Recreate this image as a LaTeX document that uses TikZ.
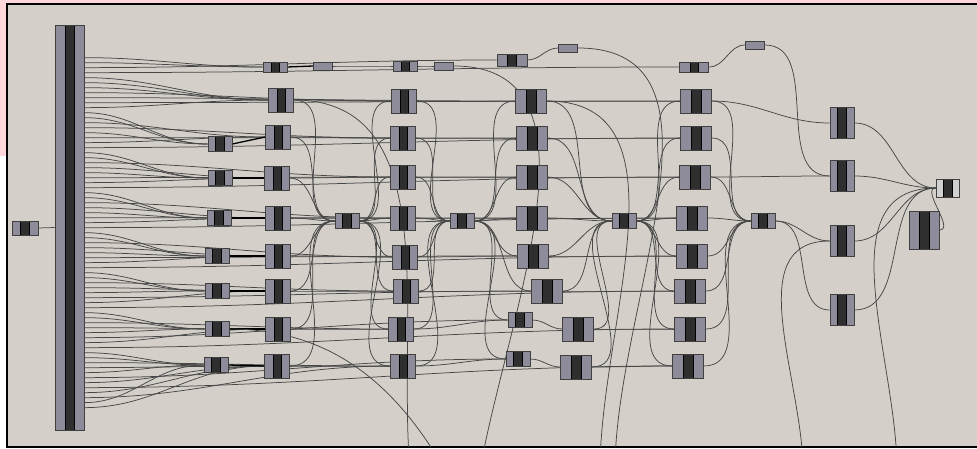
\documentclass[tikz,border=0pt]{standalone}
\usetikzlibrary{positioning}
\pgfdeclarelayer{back}
\pgfdeclarelayer{wires}
\pgfsetlayers{back,wires,main}
\definecolor{canvasgray}{HTML}{D4D0C9}
\definecolor{compgray}{HTML}{8E8C9B}
\definecolor{compcore}{HTML}{2F2F2F}
\definecolor{pinkmargin}{HTML}{FFD6DA}
\tikzset{
  comp/.style n args={3}{draw=black!75, fill=compgray, line width=0.7pt, inner sep=0pt,
    minimum width=#1pt, minimum height=#2pt,
    path picture={\draw[fill=compcore, draw=black, line width=0.6pt]
      ([xshift=-#3pt]path picture bounding box.south) rectangle ([xshift=#3pt]path picture bounding box.north);}},
  small/.style={comp={24}{15}{4.5}},
  tall/.style={comp={25}{24}{4}},
  wide/.style={comp={31}{24}{5}},
  tower/.style={comp={24}{31}{4.5}},
  strip/.style={comp={24}{10}{4}},
  panel/.style={draw=black!75, fill=compgray, line width=0.7pt, inner sep=0pt, minimum width=19pt, minimum height=8pt},
  wire/.style={draw=black!72, line width=0.75pt},
  link/.style={draw=black, line width=1.3pt},
}
\begin{document}
\begin{tikzpicture}[x=1pt,y=-1pt]
        \useasboundingbox (0,0) rectangle (977,449);
        % canvas
        \begin{pgfonlayer}{back}
        \fill[white] (0,0) rectangle (977,449);
        \fill[pinkmargin] (0,0) rectangle (977,4);
        \fill[pinkmargin] (0,0) rectangle (7,156);
        \fill[canvasgray] (7,4) rectangle (985,447);
        \draw[black, line width=2pt] (985,4) -- (7,4) -- (7,447) -- (985,447);
        \end{pgfonlayer}

        % input and big parameter
        \node[comp={26}{14}{4.5}] (In) at (25,228) {};
        \node[comp={29}{405}{4.5}] (P) at (69.5,227.5) {};

        % top row
        \node[strip] (T1) at (275,67) {};
        \node[panel] (N1) at (323,66) {};
        \node[strip] (T3) at (405,66) {};
        \node[panel] (N2) at (444,66) {};
        \node[comp={30}{12}{4.5}] (T5) at (512,60) {};
        \node[panel] (N3) at (568,48) {};
        \node[comp={29}{10}{4}] (T7) at (694,67) {};
        \node[panel] (N4) at (755,45) {};

        % columns
        \foreach \n/\x/\y in {A1/220/144, A2/220/178, A3/219/218, A4/217/256, A5/217/291, A6/217/329, A7/216/365}
          \node[small] (\n) at (\x,\y) {};
        \foreach \n/\x/\y in {B1/281/100, B2/278/137, B3/277/178, B4/278/218, B5/278/256, B6/278/291, B7/278/329, B8/277/366}
          \node[tall] (\n) at (\x,\y) {};
        \foreach \n/\x/\y in {C1/404/101, C2/403/138, C3/403/177, C4/403/218, C5/405/257, C6/406/291, C7/401/329, C8/403/366}
          \node[tall] (\n) at (\x,\y) {};
        \foreach \n/\x/\y in {D1/531/101, D2/532/138, D3/532/177, D4/532/218, D5/533/256, D6/547/291, D7b/578/329, D8b/576/367}
          \node[wide] (\n) at (\x,\y) {};
        \node[small] (D7) at (520,320) {};
        \node[small] (D8) at (518,359) {};
        \foreach \n/\x/\y in {E1/696/101, E2/696/138, E3/695/177, E4/692/218, E5/692/256, E6/690/291, E7/690/329, E8/688/366}
          \node[wide] (\n) at (\x,\y) {};
        \foreach \n/\x in {H1/347, H2/462, H3/624, H4/763}
          \node[small] (\n) at (\x,221) {};
        \foreach \n/\y in {F1/123, F2/176, F3/241, F4/310}
          \node[tower] (\n) at (842,\y) {};
        \node[comp={23}{18}{4.5}, fill=black!18] (Out) at (948,188) {};
        \node[comp={30}{38}{5}] (R) at (924,230) {};

        % ends of the wires
        \foreach \k in {0,...,70}
          \path (P.north east) ++(0,33+5*\k) coordinate (p\k);
        \coordinate (d1) at (410,470);
        \coordinate (d2) at (445,470);
        \coordinate (d3) at (480,470);
        \coordinate (d4) at (615,470);
        \coordinate (d5) at (600,470);
        \coordinate (d6) at (803,470);
        \coordinate (d7) at (897,470);

        \begin{pgfonlayer}{wires}
        \begin{scope}
        \clip (8,5) rectangle (977,446);
        \draw[wire] (In.east) -- (P.west);
        % fan out of the big parameter
        \foreach \k/\t in {0/T1, 1/T1, 2/T5, 3/T7, 4/B1, 5/B1, 6/B1, 7/C1, 8/D1, 9/E1, 10/B1,
            11/A1, 12/A1, 13/B2, 14/C2, 15/A1, 16/D2, 17/B2, 18/E2, 19/A2, 20/A2, 21/C3,
            22/B3, 23/A2, 24/D3, 25/B3, 26/E3, 27/A3, 28/A3, 29/C4, 30/B4, 31/A3, 32/D4,
            33/B4, 34/E4, 35/A4, 36/A4, 37/C5, 38/B5, 39/A4, 40/D5, 41/B5, 42/E5, 43/A5,
            44/A5, 45/C6, 46/B6, 47/A5, 48/D6, 49/B6, 50/E6, 51/A6, 52/A6, 53/C7, 54/B7,
            55/A6, 56/D7, 57/B7, 58/E7, 59/A7, 60/A7, 61/C8, 62/B8, 63/A7, 64/D8, 65/B8,
            66/E8, 67/B8, 68/C8, 69/A7, 70/B8}
          \draw[wire] (p\k) to[out=0,in=180] (\t.west);
        % short links
        \foreach \a/\b in {A1/B2, A2/B3, A3/B4, A4/B5, A5/B6, A6/B7, A7/B8, T1/N1}
          \draw[link] (\a.east) -- (\b.west);
        \foreach \a/\b in {N1/T3, T3/N2, T5/N3, T7/N4, D7/D7b, D8/D8b}
          \draw[wire] (\a.east) to[out=0,in=180] (\b.west);
        % hubs
        \foreach \i in {1,...,8} {
          \draw[wire] (B\i.east) to[out=0,in=180] (H1.west);
          \draw[wire] (H1.east) to[out=0,in=180] (C\i.west);
          \draw[wire] (B\i.east) to[out=0,in=180] (C\i.west);
          \draw[wire] (C\i.east) to[out=0,in=180] (H2.west);
          \draw[wire] (H2.east) to[out=0,in=180] (D\i.west);
          \draw[wire] (C\i.east) to[out=0,in=180] (D\i.west);
          \draw[wire] (H3.east) to[out=0,in=180] (E\i.west);
          \draw[wire] (E\i.east) to[out=0,in=180] (H4.west);
        }
        \foreach \d in {D1, D2, D3, D4, D5, D6, D7b, D8b} {
          \draw[wire] (\d.east) to[out=0,in=180] (H3.west);
        }
        \foreach \a/\b in {D1/E1, D2/E2, D3/E3, D4/E4, D5/E5, D6/E6, D7b/E7, D8b/E8}
          \draw[wire] (\a.east) to[out=0,in=180] (\b.west);
        % last stage
        \foreach \a/\b in {E1/F1, E3/F2, H4/F3, H4/F4, N4/F2}
          \draw[wire] (\a.east) to[out=0,in=180] (\b.west);
        \foreach \f in {F1, F2, F3, F4, R}
          \draw[wire] (\f.east) to[out=0,in=180] (Out.west);
        % wires leaving the canvas
        \draw[wire] (B1.east) to[out=0,in=95] (d1);
        \draw[wire] (A6.east) to[out=0,in=120] (d2);
        \draw[wire] (N2.east) to[out=0,in=80] (d3);
        \draw[wire] (N3.east) to[out=0,in=90] (d4);
        \draw[wire] (D1.east) to[out=0,in=90] (d5);
        \draw[wire] (d6) to[out=90,in=180] (F3.west);
        \draw[wire] (d7) to[out=90,in=180] (Out.west);
        \end{scope}
        \end{pgfonlayer}
      \end{tikzpicture}
\end{document}
